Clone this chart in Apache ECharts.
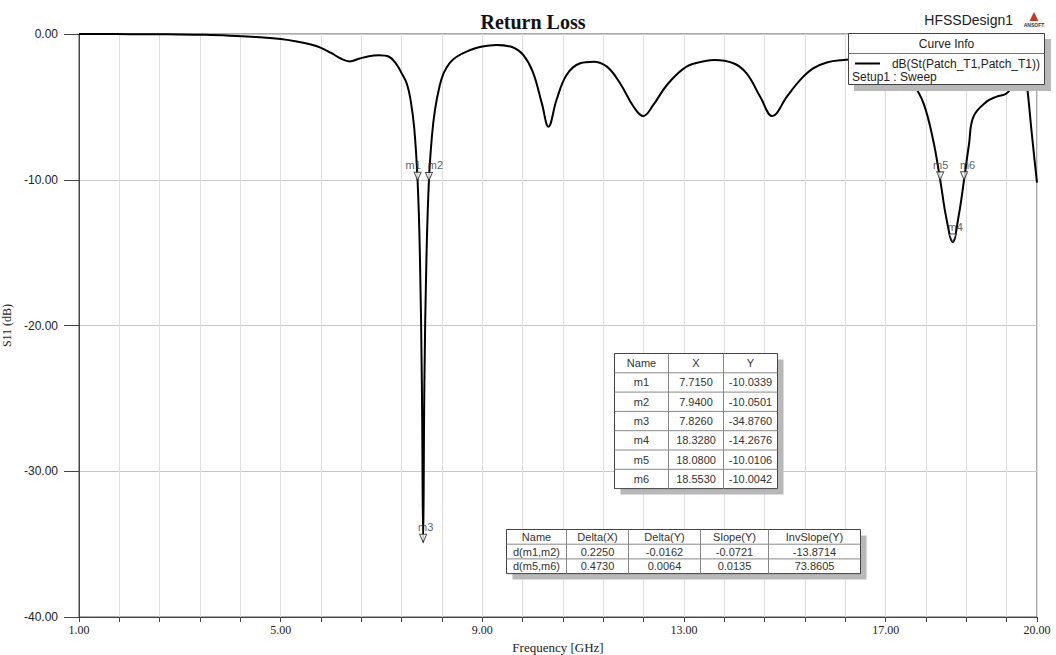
<!DOCTYPE html>
<html>
<head>
<meta charset="utf-8">
<script src="https://cdn.jsdelivr.net/npm/echarts@6/dist/echarts.min.js"></script>
<style>
html,body{margin:0;padding:0;background:#fff;}
#chart{width:1056px;height:655px;}
</style>
</head>
<body>
<div id="chart"></div>
<script>
// ---- data ----
const freq = [1.0,1.5,2.0,2.5,3.0,3.5,4.0,4.5,5.0,5.3,5.6,5.8,6.0,6.2,6.37,6.55,6.75,6.95,7.15,7.3,7.4,7.5,7.58,7.65,7.715,7.76,7.80,7.826,7.85,7.89,7.94,8.0,8.06,8.15,8.23,8.35,8.49,8.76,8.95,9.28,9.6,9.81,10.0,10.18,10.31,10.47,10.67,10.94,11.2,11.47,11.73,12.0,12.19,12.39,12.66,13.05,13.45,13.6,13.98,14.24,14.51,14.75,15.04,15.3,15.56,15.83,16.16,16.5,16.9,17.2,17.55,17.75,17.94,18.08,18.2,18.328,18.45,18.553,18.65,18.74,19.0,19.2,19.4,19.53,19.6,19.68,19.75,19.8,19.89,19.95,20.0];
const s11  = [0,-0.005,-0.01,-0.02,-0.03,-0.06,-0.12,-0.2,-0.34,-0.5,-0.72,-0.95,-1.3,-1.7,-1.88,-1.7,-1.52,-1.46,-1.56,-2.1,-2.7,-3.4,-4.6,-6.5,-10.0339,-15,-24,-34.876,-24,-15.5,-10.0501,-7.0,-5.2,-3.6,-2.7,-2.0,-1.56,-1.1,-0.89,-0.75,-0.91,-1.44,-2.6,-4.76,-6.36,-4.53,-2.81,-2.01,-1.9,-2.24,-3.38,-4.99,-5.63,-4.87,-3.5,-2.24,-1.83,-1.78,-2.01,-2.7,-4.3,-5.63,-4.3,-3.16,-2.36,-1.95,-1.78,-1.72,-1.85,-2.4,-3.5,-4.76,-7.27,-10.0106,-12.6,-14.2676,-12.4,-10.0042,-7.6,-5.67,-4.64,-4.3,-4.07,-3.38,-2.5,-2.0,-2.6,-3.5,-6.6,-8.6,-10.2];

const markerNames = ['m1','m2','m3','m4','m5','m6'];
const markerX = [7.7150, 7.9400, 7.8260, 18.3280, 18.0800, 18.5530];
const markerY = [-10.0339, -10.0501, -34.8760, -14.2676, -10.0106, -10.0042];

const deltaNames = ['d(m1,m2)','d(m5,m6)'];
const deltaX = ['0.2250','0.4730'];
const deltaY = ['-0.0162','0.0064'];
const slopeY = ['-0.0721','0.0135'];
const invSlopeY = ['-13.8714','73.8605'];

const xLabelValues = [1, 5, 9, 13, 17, 20];

const titleText = 'Return Loss';
const designText = 'HFSSDesign1';
const curveName = 'dB(St(Patch_T1,Patch_T1))';
const setupText = 'Setup1 : Sweep';

// ---- chart ----
const chart = echarts.init(document.getElementById('chart'), null, {renderer: 'svg'});

function tableElements(x, y, colW, rowH, rows) {
  const els = [];
  const W = colW.reduce((a, b) => a + b, 0);
  const H = rowH * rows.length;
  els.push({type:'rect', shape:{x:x+6, y:y+6, width:W, height:H}, style:{fill:'#b8b8b8'}, z:100});
  els.push({type:'rect', shape:{x:x, y:y, width:W, height:H}, style:{fill:'#fff', stroke:'#444', lineWidth:1}, z:101});
  for (let r = 1; r < rows.length; r++) {
    els.push({type:'line', shape:{x1:x, y1:y+r*rowH, x2:x+W, y2:y+r*rowH}, style:{stroke:'#888', lineWidth:1}, z:102});
  }
  let cx = x;
  for (let c = 0; c < colW.length; c++) {
    if (c > 0) els.push({type:'line', shape:{x1:cx, y1:y, x2:cx, y2:y+H}, style:{stroke:'#888', lineWidth:1}, z:102});
    for (let r = 0; r < rows.length; r++) {
      els.push({type:'text', x: cx + colW[c]/2, y: y + r*rowH + rowH/2,
        style:{text: rows[r][c], fill:'#333', font:'11px "Liberation Sans", Arial, sans-serif', align:'center', verticalAlign:'middle'}, z:103});
    }
    cx += colW[c];
  }
  return els;
}

const t1Rows = [['Name','X','Y']].concat(markerNames.map((n, i) => [n, markerX[i].toFixed(4), markerY[i].toFixed(4)]));
const t2Rows = [['Name','Delta(X)','Delta(Y)','Slope(Y)','InvSlope(Y)']].concat(deltaNames.map((n, i) => [n, deltaX[i], deltaY[i], slopeY[i], invSlopeY[i]]));

const legendEls = [
  {type:'rect', shape:{x:854, y:39, width:197, height:52}, style:{fill:'#b8b8b8'}, z:100},
  {type:'rect', shape:{x:848.5, y:33.5, width:196, height:51}, style:{fill:'#fff', stroke:'#444', lineWidth:1}, z:101},
  {type:'line', shape:{x1:848.5, y1:53.5, x2:1044.5, y2:53.5}, style:{stroke:'#777', lineWidth:1}, z:102},
  {type:'text', x:946.5, y:44, style:{text:'Curve Info', fill:'#222', font:'12px "Liberation Sans", Arial, sans-serif', align:'center', verticalAlign:'middle'}, z:103},
  {type:'line', shape:{x1:855, y1:63.5, x2:880, y2:63.5}, style:{stroke:'#000', lineWidth:2}, z:103},
  {type:'text', x:1040, y:63.5, style:{text:curveName, fill:'#222', font:'12px "Liberation Sans", Arial, sans-serif', align:'right', verticalAlign:'middle'}, z:103},
  {type:'text', x:852, y:77, style:{text:setupText, fill:'#222', font:'12px "Liberation Sans", Arial, sans-serif', align:'left', verticalAlign:'middle'}, z:103},
  {type:'text', x:1013, y:20, style:{text:designText, fill:'#222', font:'14px "Liberation Sans", Arial, sans-serif', align:'right', verticalAlign:'middle'}, z:103},
  {type:'polygon', shape:{points:[[1034,12],[1029.5,21],[1038.5,21]]}, style:{fill:'#c0392b'}, z:103},
  {type:'text', x:1034, y:24.5, style:{text:'ANSOFT', fill:'#333', font:'bold 5px "Liberation Sans", Arial, sans-serif', align:'center', verticalAlign:'middle'}, z:103}
];

// horizontal shift of each marker label from its marker (px)
const labelShift = {m1: -4, m2: 7, m3: 3, m4: 3, m5: 1, m6: 4};
const downTriangle = 'path://M0,0 L10,0 L5,10 Z';

function markerSeries(i) {
  return {
    type: 'scatter', name: markerNames[i],
    data: [[markerX[i], markerY[i]]],
    symbol: downTriangle, symbolSize: [7, 8], symbolOffset: [0, -4], symbolKeepAspect: false,
    itemStyle: {color: '#fff', borderColor: '#222', borderWidth: 1},
    label: {show: true, position: [3.5 + labelShift[markerNames[i]], -1], align: 'center', verticalAlign: 'bottom',
      formatter: markerNames[i],
      fontFamily: '"Liberation Sans", Arial, sans-serif', fontSize: 11, color: '#333'},
    labelLayout: {hideOverlap: false},
    z: 10
  };
}

const option = {
  backgroundColor: '#fff',
  animation: false,
  title: {
    text: titleText, left: 528, top: 7, textAlign: 'center',
    textStyle: {fontFamily: '"Liberation Serif", "Times New Roman", serif', fontWeight: 'bold', fontSize: 20, color: '#111'}
  },
  grid: {left: 79, right: 19, top: 34, bottom: 38, outerBoundsMode: 'none', containLabel: false,
    show: true, borderColor: '#555', borderWidth: 1, backgroundColor: 'transparent'},
  xAxis: {
    type: 'value', min: 1, max: 20, interval: 0.8,
    name: 'Frequency [GHz]', nameLocation: 'middle', nameGap: 21,
    nameTextStyle: {fontFamily: '"Liberation Serif", serif', fontSize: 13, color: '#222'},
    axisLine: {show: true, onZero: false, lineStyle: {color: '#444'}},
    axisTick: {show: true, length: 5, lineStyle: {color: '#444'}},
    axisLabel: {
      fontFamily: '"Liberation Serif", serif', fontSize: 12, color: '#222', margin: 7,
      showMaxLabel: true, showMinLabel: true,
      formatter: function (v) {
        for (const t of xLabelValues) if (Math.abs(v - t) < 1e-6) return t.toFixed(2);
        return '';
      }
    },
    splitLine: {show: true, lineStyle: {color: '#dedede', width: 1}}
  },
  yAxis: {
    type: 'value', min: -40, max: 0, interval: 10,
    name: 'S11 (dB)', nameLocation: 'middle', nameGap: 61, nameRotate: 90,
    nameTextStyle: {fontFamily: '"Liberation Serif", serif', fontSize: 12, color: '#222'},
    axisLine: {show: true, lineStyle: {color: '#444'}},
    axisTick: {show: true, length: 15, lineStyle: {color: '#444'}},
    axisLabel: {
      fontFamily: '"Liberation Sans", Arial, sans-serif', fontSize: 12, color: '#222', margin: 21,
      formatter: function (v) { return v.toFixed(2); }
    },
    splitLine: {show: true, lineStyle: {color: '#c8c8c8', width: 1}}
  },
  series: [
    {
      type: 'line', name: curveName,
      data: freq.map((f, i) => [f, s11[i]]),
      showSymbol: false, smooth: 0.4,
      lineStyle: {color: '#000', width: 2},
      z: 5
    }
  ].concat(markerNames.map((n, i) => markerSeries(i))),
  graphic: {elements: [].concat(
    legendEls,
    tableElements(614.5, 353.5, [54, 55, 54], 19.3, t1Rows),
    tableElements(506.5, 529.5, [60, 62, 72, 68, 92], 14.7, t2Rows)
  )}
};
chart.setOption(option);
</script>
</body>
</html>
